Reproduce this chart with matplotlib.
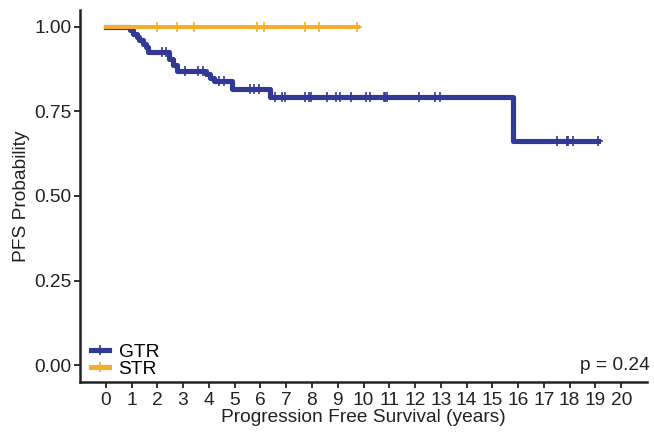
import matplotlib
matplotlib.use('Agg')
import matplotlib.pyplot as plt
from matplotlib.lines import Line2D

plt.rcParams['font.family'] = ['Liberation Sans', 'DejaVu Sans']

# Kaplan-Meier steps
gtr_times = [0, 0.95, 1.05, 1.2, 1.3, 1.45, 1.55, 1.62, 2.44, 2.6, 2.78, 3.9, 4.05, 4.2, 4.9, 6.38, 15.8]
gtr_surv = [1.0, 0.99, 0.98, 0.97, 0.96, 0.95, 0.94, 0.927, 0.905, 0.888, 0.87, 0.86, 0.85, 0.839, 0.817, 0.794, 0.664]
gtr_end = 19.1
gtr_censor = [2.17, 2.33, 3.06, 3.57, 3.76, 4.38, 4.57, 5.6, 5.74, 5.93,
              6.58, 6.82, 6.96, 7.74, 7.87, 7.98, 8.57, 8.95, 9.1, 9.53, 10.1,
              10.26, 10.78, 10.84, 10.9, 12.15, 12.77, 12.97,
              17.5, 17.88, 17.95, 18.14, 19.08]

str_times = [0]
str_surv = [1.0]
str_end = 9.8
str_censor = [2.0, 2.78, 3.44, 5.85, 6.15, 7.74, 8.26, 9.73]

groups = ['GTR', 'STR']
colors = {'GTR': '#313896', 'STR': '#F5AE2C'}
pval_text = 'p = 0.24'
xticks = list(range(0, 21))
yticks = [0.0, 0.25, 0.5, 0.75, 1.0]

FS = 13.8


def surv_at(times, surv, t):
    s = surv[0]
    for ti, si in zip(times, surv):
        if ti <= t:
            s = si
    return s


fig = plt.figure(figsize=(6.54, 4.33), dpi=100)
ax = fig.add_axes([80 / 654, 1 - 382 / 433, 567 / 654, 372 / 433])

series = {
    'GTR': (gtr_times, gtr_surv, gtr_end, gtr_censor, 3.7),
    'STR': (str_times, str_surv, str_end, str_censor, 2.9),
}
for g in groups:
    t, s, end, cens, lw = series[g]
    ax.step(t + [end], s + [s[-1]], where='post', color=colors[g], lw=lw,
            solid_joinstyle='round', zorder=3 if g == 'GTR' else 4)
    cy = [surv_at(t, s, c) for c in cens]
    ax.plot(cens, cy, ls='none', marker='+', ms=7, mew=1.2, color=colors[g],
            zorder=3 if g == 'GTR' else 4)

ax.set_xlim(-1, 21)
ax.set_ylim(-0.05, 1.05)
ax.set_xticks(xticks)
ax.set_yticks(yticks)
ax.set_yticklabels(['0.00', '0.25', '0.50', '0.75', '1.00'])
ax.tick_params(labelsize=FS, length=4, width=1.3, colors='#222222', labelcolor='#222222')
ax.tick_params(axis='x', pad=3)
ax.tick_params(axis='y', pad=2)
for side in ['top', 'right']:
    ax.spines[side].set_visible(False)
for side in ['left', 'bottom']:
    ax.spines[side].set_linewidth(1.8)
    ax.spines[side].set_color('#222222')

ax.set_xlabel('Progression Free Survival (years)', fontsize=FS, color='#222222', labelpad=0)
ax.set_ylabel('PFS Probability', fontsize=FS, color='#222222', labelpad=3)

ax.text(19.75, 0.0, pval_text, fontsize=FS, ha='center', va='center', color='#222222')

handles = [Line2D([], [], color=colors[g], lw=3.7, marker='+', ms=7, mew=1.2) for g in groups]
ax.legend(handles, groups, loc='lower left', bbox_to_anchor=(0.019, 0.012), frameon=False,
          fontsize=FS, handlelength=0.95, handletextpad=0.5, labelspacing=-0.05,
          borderpad=0, borderaxespad=0)

fig.savefig('out.png', dpi=100)
